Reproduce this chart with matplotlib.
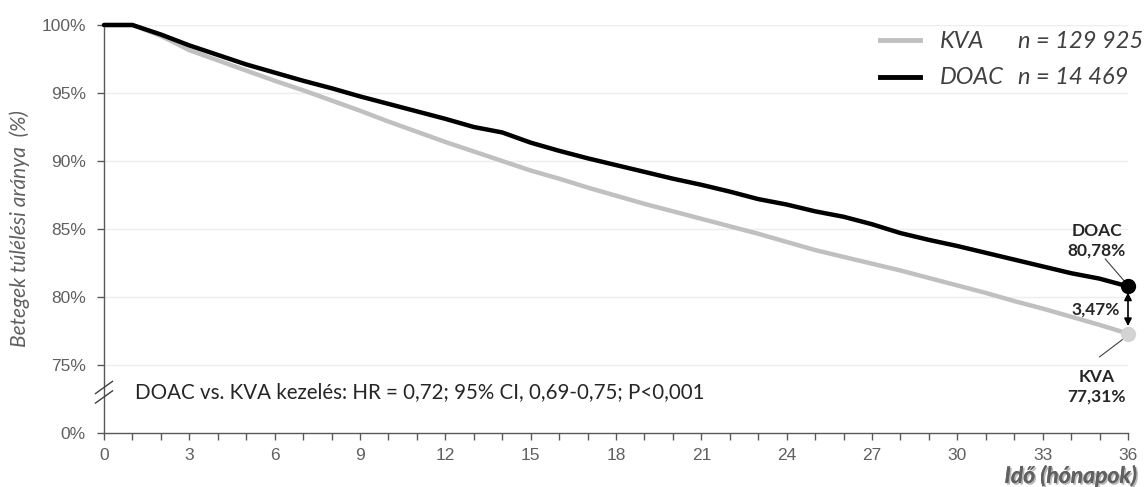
import matplotlib
matplotlib.use("Agg")
import matplotlib.pyplot as plt
import matplotlib.patheffects as pe
from matplotlib.lines import Line2D
import numpy as np

months = list(range(0, 37))
doac = [100, 100, 99.3, 98.5, 97.8, 97.1, 96.5, 95.9, 95.35, 94.75, 94.2, 93.65,
        93.1, 92.5, 92.1, 91.35, 90.75, 90.2, 89.7, 89.2, 88.7, 88.25, 87.75, 87.2,
        86.8, 86.3, 85.9, 85.35, 84.7, 84.2, 83.75, 83.25, 82.75, 82.25, 81.75, 81.35, 80.78]
kva = [100, 100, 99.2, 98.15, 97.4, 96.65, 95.9, 95.2, 94.45, 93.7, 92.9, 92.15,
       91.4, 90.7, 90.0, 89.3, 88.7, 88.05, 87.45, 86.85, 86.3, 85.75, 85.2, 84.65,
       84.05, 83.45, 82.95, 82.45, 81.95, 81.4, 80.85, 80.3, 79.7, 79.15, 78.55, 77.95, 77.31]
ytick_vals = [70, 75, 80, 85, 90, 95, 100]
ytick_labels = ["0%", "75%", "80%", "85%", "90%", "95%", "100%"]
xtick_major = list(range(0, 37, 3))
legend_names = ["KVA", "DOAC"]
legend_n = ["n = 129 925", "n = 14 469"]
end_doac_label = "DOAC\n80,78%"
end_kva_label = "KVA\n77,31%"
diff_label = "3,47%"
hr_text = "DOAC vs. KVA kezelés: HR = 0,72; 95% CI, 0,69-0,75; P<0,001"

GRAY = "#c0c0c0"
BLACK = "#000000"
TXT = "#606060"

fig = plt.figure(figsize=(11.47, 4.87), dpi=100)
W, H = 1147, 487
ax = fig.add_axes([104 / W, 1 - 433 / H, (1128 - 104) / W, (433 - 25) / H])

ax.set_xlim(0, 36)
ax.set_ylim(70, 100)

for yv in ytick_vals[1:]:
    ax.axhline(yv, color="#ededed", lw=1, zorder=0)

ax.plot(months, kva, color=GRAY, lw=3.2, solid_capstyle="round", zorder=3, clip_on=False)
ax.plot(months, doac, color=BLACK, lw=3.2, solid_capstyle="round", zorder=4, clip_on=False)
ax.plot([months[-1]], [kva[-1]], "o", color="#d3d3d3", ms=10, zorder=5, clip_on=False)
ax.plot([months[-1]], [doac[-1]], "o", color=BLACK, ms=10, zorder=6, clip_on=False)

# double arrow
ax.annotate("", xy=(months[-1], kva[-1] + 0.55), xytext=(months[-1], doac[-1] - 0.45),
            arrowprops=dict(arrowstyle="<|-|>", color="black", lw=1.2,
                            mutation_scale=11, shrinkA=0, shrinkB=0), zorder=7)

ax.set_yticks(ytick_vals)
ax.set_yticklabels(ytick_labels)
ax.set_xticks(xtick_major)
ax.set_xticks(months, minor=True)

for s in ["top", "right"]:
    ax.spines[s].set_visible(False)
for s in ["left", "bottom"]:
    ax.spines[s].set_color("#595959")
    ax.spines[s].set_linewidth(1.0)

ax.tick_params(axis="both", which="both", direction="out", color="#595959",
               labelcolor=TXT, labelsize=12.5, length=5, width=1)
ax.tick_params(axis="x", pad=6)
ax.tick_params(axis="y", pad=8)
for lab in ax.get_xticklabels() + ax.get_yticklabels():
    lab.set_fontfamily("Liberation Sans")

ax.set_ylabel("Betegek túlélési aránya  (%)", fontsize=15, style="italic",
              color=TXT, family="Lato", labelpad=8)

# axis break marks
brk_y = 73.0
for dy in (-0.35, 0.35):
    ax.plot([-0.3, 0.3], [brk_y - 0.45 + dy, brk_y + 0.45 + dy], color="#404040",
            lw=1.0, clip_on=False, zorder=8)

ax.text(1.1, brk_y, hr_text, fontsize=14.8, color="#262626", family="Lato",
        va="center", ha="left")

# end labels
ax.text(34.9, 84.15, end_doac_label, fontsize=12.5, fontweight="bold", color="#262626",
        family="Lato", ha="center", va="center", linespacing=1.3)
ax.text(34.9, 73.4, end_kva_label, fontsize=12.5, fontweight="bold", color="#262626",
        family="Lato", ha="center", va="center", linespacing=1.3)
ax.text(34.85, 79.1, diff_label, fontsize=12.5, fontweight="bold", color="#262626",
        family="Lato", ha="center", va="center")
ax.plot([35.2, 35.9], [82.8, 81.1], color="#404040", lw=0.8, clip_on=False)
ax.plot([35.95, 35.0], [77.1, 75.6], color="#404040", lw=0.8, clip_on=False)

# legend
leg_y = [40, 77]
leg_c = [GRAY, BLACK]
for yy, c, nm, nn in zip(leg_y, leg_c, legend_names, legend_n):
    fig.add_artist(Line2D([880 / W, 920 / W], [1 - yy / H, 1 - yy / H], color=c, lw=3.5,
                          transform=fig.transFigure))
    fig.text(940 / W, 1 - (yy + 1) / H, nm, fontsize=17, style="italic", color="#404040",
             family="Lato", va="center", ha="left")
    fig.text(1018 / W, 1 - (yy + 1) / H, nn, fontsize=17, style="italic", color="#404040",
             family="Lato", va="center", ha="left")

# x label
fig.text(1137 / W, 1 - 483 / H, "Idő (hónapok)", fontsize=16.5, style="italic",
         fontweight="bold", color=TXT, family="Lato", ha="right", va="baseline",
         path_effects=[pe.withSimplePatchShadow(offset=(1.2, -1.2), shadow_rgbFace="#888888", alpha=0.6),
                       pe.Normal()])

fig.savefig("out.png", dpi=100, facecolor="white")
